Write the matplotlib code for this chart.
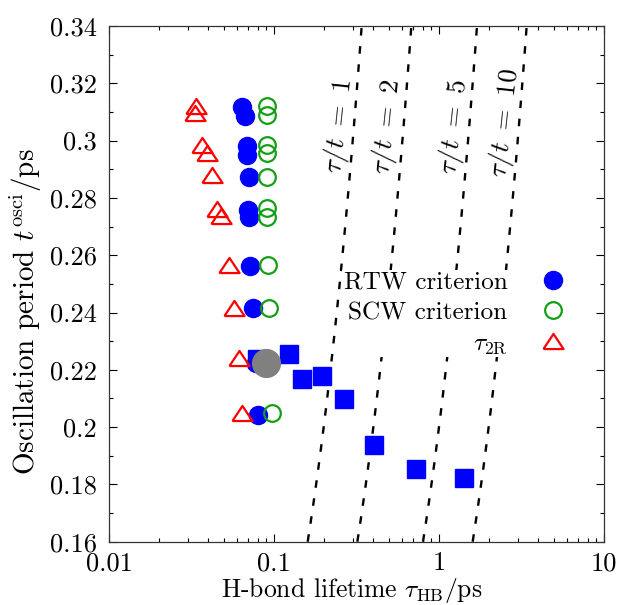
import numpy as np
import matplotlib
matplotlib.use("Agg")
import matplotlib.pyplot as plt
from matplotlib.ticker import MultipleLocator, LogLocator, FuncFormatter

plt.rcParams['font.family'] = 'serif'
plt.rcParams['font.serif'] = ['cmr10']
plt.rcParams['mathtext.fontset'] = 'cm'
plt.rcParams['axes.unicode_minus'] = False

# RTW criterion
rtw_tau = [0.0637, 0.0668, 0.0689, 0.0689, 0.0706, 0.0700, 0.0706, 0.0715, 0.0749, 0.0780, 0.0796]
rtw_t = [0.3118, 0.3086, 0.2981, 0.2950, 0.2874, 0.2758, 0.2734, 0.2563, 0.2415, 0.2225, 0.2042]
# SCW criterion
scw_tau = [0.0904, 0.0904, 0.0904, 0.0904, 0.0904, 0.0910, 0.0910, 0.0920, 0.0937, 0.0950, 0.0968]
scw_t = [0.3121, 0.3089, 0.2985, 0.2956, 0.2874, 0.2764, 0.2734, 0.2566, 0.2415, 0.2225, 0.2048]
# tau_2R
r2_tau = [0.0335, 0.0334, 0.0364, 0.0391, 0.0419, 0.0453, 0.0474, 0.0536, 0.0573, 0.0613, 0.0637]
r2_t = [0.3121, 0.3095, 0.2983, 0.2957, 0.2880, 0.2762, 0.2738, 0.2566, 0.2415, 0.2240, 0.2048]
# squares
sq_tau = [0.0785, 0.124, 0.148, 0.195, 0.267, 0.406, 0.727, 1.418]
sq_t = [0.2238, 0.2254, 0.2167, 0.2179, 0.2097, 0.1938, 0.1854, 0.1823]
# grey point
grey_tau = [0.0894]
grey_t = [0.2225]

ratios = [1, 2, 5, 10]
ratio_label_x = [0.248, 0.491, 1.25, 2.51]
ratio_label_y = [0.305, 0.305, 0.305, 0.306]

fs = 19

fig = plt.figure(figsize=(6.18, 6.05), dpi=100)
ax = fig.add_axes([0.1764, 0.1046, 0.8009, 0.8524])

t_line = np.linspace(0.16, 0.34, 50)
for c in ratios:
    ax.plot(c * t_line, t_line, color='black', lw=1.7, dashes=(3.2, 4.5), zorder=1)

for c, lx, ly in zip(ratios, ratio_label_x, ratio_label_y):
    ax.text(lx, ly, r'$\tau/t\ =\ %d$' % c, rotation=84, ha='center', va='center',
            fontsize=19.5, zorder=2)

ax.plot(sq_tau, sq_t, 's', color='#0000ff', ms=13.5, mec='#0000ff', zorder=3)
ax.plot(rtw_tau, rtw_t, 'o', color='#0000ff', ms=13, mec='#0000ff', zorder=4,
        label='RTW criterion')
ax.plot(scw_tau, scw_t, 'o', mfc='none', mec='#12a012', ms=12, mew=1.6, zorder=5,
        label='SCW criterion')
tri = [(-1, -0.75), (1, -0.75), (0, 0.75), (-1, -0.75)]
ax.plot(r2_tau, r2_t, ls='none', marker=tri, mfc='none', mec='#ff0000', ms=14.5, mew=1.6,
        zorder=5, label=r'$\tau_{\rm 2R}$')
ax.plot(grey_tau, grey_t, 'o', color='#808080', ms=20, zorder=6)

ax.set_xscale('log')
ax.set_xlim(0.01, 10)
ax.set_ylim(0.16, 0.34)
ax.yaxis.set_major_locator(MultipleLocator(0.02))
ax.yaxis.set_minor_locator(MultipleLocator(0.01))
ax.yaxis.set_major_formatter(FuncFormatter(lambda v, p: '%g' % round(v, 4)))
ax.xaxis.set_major_locator(LogLocator(base=10))
ax.xaxis.set_minor_locator(LogLocator(base=10, subs=np.arange(2, 10)))
ax.xaxis.set_major_formatter(FuncFormatter(lambda v, p: '%g' % v))
ax.tick_params(which='both', direction='in', top=True, right=True, labelsize=fs)
ax.tick_params(which='major', length=6, width=0.8)
ax.tick_params(which='minor', length=3, width=0.8)
ax.tick_params(axis='x', which='major', pad=7)
ax.tick_params(axis='y', which='major', pad=9)
for s in ax.spines.values():
    s.set_linewidth(0.9)
    s.set_color('#333333')

ax.set_xlabel(r'H-bond lifetime $\tau_{\rm HB}/{\rm ps}$', fontsize=18.5)
ax.set_ylabel(r'Oscillation period $t^{\rm osci}/{\rm ps}$', fontsize=21)
ax.xaxis.set_label_coords(0.491, -0.067)
ax.yaxis.set_label_coords(-0.131, 0.447)

leg = ax.legend(loc='upper right', bbox_to_anchor=(0.925, 0.527), markerfirst=False,
                frameon=True, fancybox=False, framealpha=1, facecolor='white',
                edgecolor='none', fontsize=18.2, handlelength=1.0, handletextpad=1.3,
                labelspacing=0.3, borderaxespad=0, borderpad=0.05)
leg.set_zorder(2.5)

fig.savefig('out.png', dpi=100)
